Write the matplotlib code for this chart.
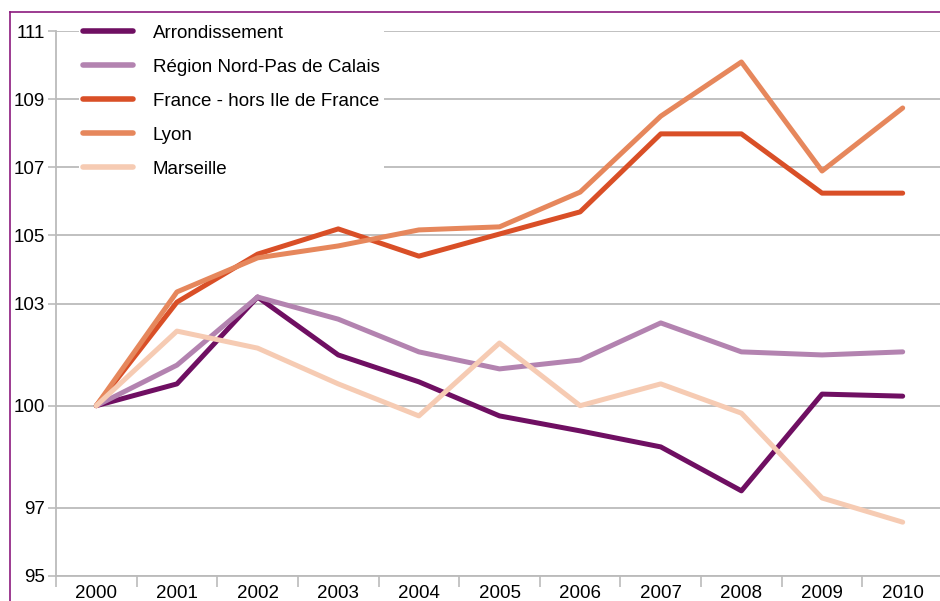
import matplotlib.pyplot as plt
from matplotlib.lines import Line2D

plt.rcParams['font.family'] = ['Liberation Sans', 'DejaVu Sans']

years = ['2000', '2001', '2002', '2003', '2004', '2005', '2006', '2007', '2008', '2009', '2010']
arrondissement = [100, 100.64, 103.19, 101.49, 100.7, 99.7, 99.26, 98.79, 97.5, 100.34, 100.28]
region = [100, 101.19, 103.19, 102.54, 101.58, 101.08, 101.34, 102.43, 101.58, 101.49, 101.58]
france = [100, 103.04, 104.45, 105.19, 104.39, 105.04, 105.69, 107.98, 107.98, 106.24, 106.24]
lyon = [100, 103.34, 104.34, 104.69, 105.16, 105.25, 106.27, 108.5, 110.09, 106.89, 108.74]
marseille = [100, 102.19, 101.69, 100.64, 99.7, 101.84, 100.0, 100.64, 99.78, 97.29, 96.58]
yticks = [95, 97, 100, 103, 105, 107, 109, 111]

series = [
    ('Arrondissement', arrondissement, '#6f0f62'),
    ('Région Nord-Pas de Calais', region, '#b383b0'),
    ('France - hors Ile de France', france, '#d94f27'),
    ('Lyon', lyon, '#e6875c'),
    ('Marseille', marseille, '#f6cbb3'),
]

fig = plt.figure(figsize=(9.4, 6.01), dpi=100)
ax = fig.add_axes([56 / 940, 25 / 601, 887 / 940, 545 / 601])

x = list(range(len(years)))
for name, vals, col in series:
    ax.plot(x, vals, color=col, lw=3.6, label=name, solid_capstyle='round',
            solid_joinstyle='round', zorder=3)

ax.set_ylim(95, 111)
ax.set_yticks(yticks)
ax.set_xlim(-0.5, len(years) - 0.5)
ax.set_xticks([i - 0.5 for i in range(len(years) + 1)])
ax.set_xticklabels([])
ax.set_xticks(x, minor=True)
ax.set_xticklabels(years, minor=True)
ax.tick_params(axis='x', which='minor', length=0, pad=6.5, labelsize=13.5)
ax.tick_params(axis='x', which='major', length=8, color='#bbbbbb', width=1.2)
ax.tick_params(axis='y', length=6, color='#bbbbbb', width=1.2, labelsize=13.5, pad=2)
ax.grid(axis='y', color='#bbbbbb', lw=1.3, zorder=0)
for s in ['top', 'right']:
    ax.spines[s].set_visible(False)
for s in ['left', 'bottom']:
    ax.spines[s].set_color('#bbbbbb')
    ax.spines[s].set_linewidth(1.3)

leg = ax.legend(loc='upper left', bbox_to_anchor=(79 / 940, 1 - 21 / 601),
                bbox_transform=fig.transFigure, frameon=True, fontsize=13.5,
                handlelength=2.67, handletextpad=1.07, labelspacing=0.9,
                borderpad=0.2, borderaxespad=0, fancybox=False)
leg.get_frame().set_facecolor('white')
leg.get_frame().set_edgecolor('none')
leg.get_frame().set_alpha(1)
leg.set_zorder(5)
for h in leg.get_lines():
    h.set_linewidth(4)
    h.set_solid_capstyle('round')

# purple frame of the page
fig.add_artist(Line2D([9.5 / 940, 9.5 / 940], [0, 1 - 12 / 601], color='#8b1a7e',
                      lw=1.2, transform=fig.transFigure))
fig.add_artist(Line2D([9.5 / 940, 1], [1 - 12 / 601, 1 - 12 / 601], color='#8b1a7e',
                      lw=1.2, transform=fig.transFigure))

fig.savefig('out.png', dpi=100)
